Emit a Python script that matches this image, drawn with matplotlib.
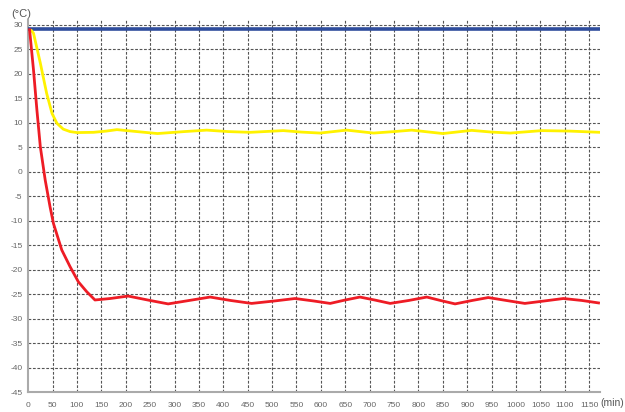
import matplotlib
matplotlib.use("Agg")
import matplotlib.pyplot as plt

plt.rcParams["axes.unicode_minus"] = False
plt.rcParams["font.family"] = ["Liberation Sans Narrow", "Liberation Sans", "DejaVu Sans"]

# 室温（目標線）
ambient_t = [0, 1172]
ambient_v = [29.2, 29.2]

# 黄色の曲線
yellow_t = [7, 11, 25, 38, 49, 59, 72, 86, 100, 134, 160, 182, 223, 265, 320,
            366, 410, 455, 523, 560, 598, 653, 680, 708, 750, 786, 850, 909,
            950, 988, 1053, 1110, 1172]
yellow_v = [28.8, 28.3, 22.2, 16.0, 11.9, 9.9, 8.7, 8.2, 8.0, 8.05, 8.3, 8.6,
            8.2, 7.8, 8.2, 8.5, 8.2, 8.05, 8.4, 8.1, 7.9, 8.5, 8.2, 7.9, 8.2,
            8.5, 7.8, 8.45, 8.1, 7.9, 8.4, 8.3, 8.05]

# 赤の曲線
red_t = [3, 11, 18, 25, 35, 45, 52, 69, 86, 103, 120, 137, 168, 205, 250,
         287, 330, 373, 415, 458, 505, 547, 585, 619, 650, 680, 710, 742, 780,
         817, 845, 875, 910, 943, 980, 1018, 1058, 1097, 1135, 1169]
red_v = [29.0, 20.8, 12.6, 5.1, -1.7, -7.2, -10.6, -16.0, -19.4, -22.5, -24.5,
         -26.2, -25.9, -25.4, -26.3, -27.0, -26.3, -25.6, -26.3, -26.9, -26.4,
         -25.9, -26.4, -26.9, -26.2, -25.6, -26.2, -26.9, -26.3, -25.6, -26.3,
         -27.0, -26.3, -25.7, -26.3, -26.9, -26.4, -25.9, -26.3, -26.8]

x_ticks = list(range(0, 1151, 50))
y_ticks = list(range(-45, 31, 5))

fig = plt.figure(figsize=(6.25, 4.12), dpi=100)
ax = fig.add_axes([0.045, 0.0485, 0.915, 0.903])

ax.set_xlim(0, 1172)
ax.set_ylim(-45, 31)

for t in x_ticks[1:]:
    ax.axvline(t, color="#555555", lw=0.8, ls=(0, (2.5, 1.5)), zorder=1)
for v in y_ticks[1:]:
    ax.axhline(v, color="#555555", lw=0.8, ls=(0, (2.5, 1.5)), zorder=1)

ax.plot(ambient_t, ambient_v, color="#2f4d9c", lw=2.6, zorder=3)
ax.plot(yellow_t, yellow_v, color="#fff200", lw=2.0, zorder=3,
        solid_joinstyle="round")
ax.plot(red_t, red_v, color="#ee1c25", lw=2.0, zorder=3,
        solid_joinstyle="round")

ax.set_xticks(x_ticks)
ax.set_yticks(y_ticks)
ax.tick_params(length=0, labelsize=6, labelcolor="#666666")
ax.tick_params(axis="x", pad=7)
ax.tick_params(axis="y", pad=4)

for side in ["top", "right"]:
    ax.spines[side].set_visible(False)
for side in ["left", "bottom"]:
    ax.spines[side].set_color("#aaaaaa")
    ax.spines[side].set_linewidth(1.5)

fig.text(0.018, 0.965, "(°C)", fontsize=8, color="#555555", ha="left", va="center")
fig.text(0.998, 0.022, "(min)", fontsize=7.5, color="#555555", ha="right", va="center")

fig.savefig("out.png", dpi=100)
